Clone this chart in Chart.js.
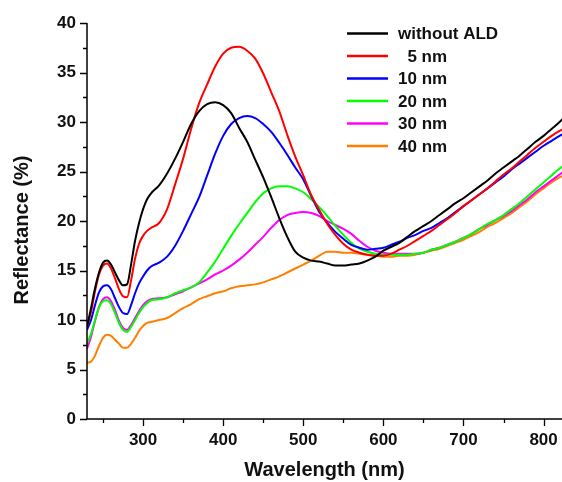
<!DOCTYPE html>
<html>
<head>
<meta charset="utf-8">
<script src="https://cdn.jsdelivr.net/npm/chart.js"></script>
<style>
  html, body { margin: 0; padding: 0; background: #fff; }
  #wrap { width: 562px; height: 482px; }
</style>
</head>
<body>
<div id="wrap"><canvas id="chart" width="562" height="482"></canvas></div>
<script>
// reflectance spectra vs ALD thickness

const WAVELENGTH = [
  230, 235, 240, 245, 250, 255, 260, 265, 270, 275, 280, 285, 290, 295, 300, 305, 310,
  320, 330, 340, 350, 360, 370, 380, 390, 400, 410, 420, 430, 440, 450, 460, 470, 480, 490,
  500, 510, 520, 530, 540, 550, 560, 570, 580, 590, 600, 610, 620, 630, 640, 650, 660, 670,
  680, 690, 700, 710, 720, 730, 740, 750, 760, 770, 780, 790, 800, 810, 820, 825
];

const NO_ALD = [
  9.3, 11.2, 13.2, 14.8, 15.8, 16.0, 15.6, 14.8, 14.0, 13.5, 13.6, 15.6, 18.0, 19.8, 21.2, 22.2, 22.8,
  23.6, 24.8, 26.3, 28.0, 29.8, 31.1, 31.8, 32.0, 31.7, 30.9, 29.4, 28.0, 26.2, 24.4, 22.4, 20.3, 18.4, 16.9,
  16.3, 16.0, 15.9, 15.7, 15.5, 15.5, 15.6, 15.7, 16.0, 16.4, 17.0, 17.4, 17.8, 18.4, 19.0, 19.5, 20.0, 20.6,
  21.2, 21.8, 22.3, 22.9, 23.5, 24.1, 24.8, 25.4, 26.0, 26.6, 27.3, 28.0, 28.6, 29.3, 30.0, 30.4
];
const ALD_5 = [
  9.3, 10.8, 12.9, 14.6, 15.5, 15.7, 15.2, 14.2, 13.1, 12.4, 12.3, 14.0, 16.2, 17.7, 18.5, 19.0, 19.3,
  19.8, 21.2, 23.7, 26.3, 29.3, 31.9, 33.8, 35.6, 36.9, 37.5, 37.6, 37.2, 36.4, 34.9, 33.0, 31.1, 28.7, 26.5,
  24.6, 22.6, 21.1, 19.7, 18.6, 17.7, 17.1, 16.8, 16.6, 16.5, 16.5, 16.7, 17.1, 17.5, 18.0, 18.5, 19.0, 19.6,
  20.2, 20.8, 21.5, 22.1, 22.7, 23.3, 24.0, 24.7, 25.3, 26.0, 26.7, 27.4, 28.0, 28.6, 29.1, 29.3
];
const ALD_10 = [
  9.0, 10.0, 11.5, 12.8, 13.4, 13.5, 13.1, 12.2, 11.3, 10.7, 10.6, 11.5, 12.7, 13.7, 14.4, 15.0, 15.4,
  15.8, 16.4, 17.5, 19.0, 20.7, 22.4, 24.6, 26.8, 28.6, 29.8, 30.4, 30.6, 30.4, 29.8, 29.0, 27.9, 26.7, 25.4,
  24.2, 22.5, 20.9, 19.8, 18.9, 18.2, 17.6, 17.3, 17.1, 17.2, 17.3, 17.6, 17.9, 18.3, 18.6, 19.0, 19.3, 19.8,
  20.3, 20.9, 21.5, 22.1, 22.7, 23.3, 23.9, 24.5, 25.2, 25.8, 26.4, 27.0, 27.6, 28.1, 28.6, 28.8
];
const ALD_20 = [
  7.6, 8.6, 10.0, 11.3, 11.9, 12.0, 11.6, 10.7, 9.7, 9.0, 8.8, 9.3, 10.0, 10.7, 11.3, 11.7, 12.0,
  12.1, 12.3, 12.7, 13.0, 13.3, 13.8, 14.8, 15.9, 17.2, 18.5, 19.7, 20.8, 21.9, 22.8, 23.3, 23.5, 23.5, 23.3,
  22.9, 22.2, 21.4, 20.5, 19.5, 18.6, 17.8, 17.2, 16.9, 16.7, 16.6, 16.6, 16.6, 16.6, 16.7, 16.8, 17.1, 17.3,
  17.6, 17.9, 18.3, 18.7, 19.2, 19.7, 20.1, 20.6, 21.2, 21.8, 22.5, 23.2, 23.9, 24.6, 25.3, 25.6
];
const ALD_30 = [
  7.1, 8.3, 9.9, 11.3, 12.1, 12.3, 11.9, 11.0, 9.9, 9.2, 9.0, 9.5, 10.2, 10.9, 11.5, 11.9, 12.1,
  12.2, 12.3, 12.6, 12.9, 13.3, 13.7, 14.1, 14.6, 15.0, 15.5, 16.1, 16.8, 17.6, 18.4, 19.3, 20.1, 20.6, 20.8,
  20.9, 20.8, 20.5, 20.0, 19.6, 19.2, 18.7, 18.0, 17.4, 17.0, 16.8, 16.7, 16.7, 16.7, 16.7, 16.8, 17.1, 17.3,
  17.6, 17.9, 18.3, 18.7, 19.2, 19.6, 20.1, 20.5, 21.0, 21.6, 22.2, 22.9, 23.5, 24.1, 24.7, 25.0
];
const ALD_40 = [
  5.7, 5.8, 6.4, 7.4, 8.2, 8.5, 8.4, 8.0, 7.6, 7.2, 7.2, 7.6, 8.2, 8.9, 9.4, 9.7, 9.8,
  10.0, 10.2, 10.7, 11.2, 11.6, 12.1, 12.4, 12.7, 12.9, 13.2, 13.4, 13.5, 13.6, 13.8, 14.1, 14.4, 14.8, 15.2,
  15.6, 16.0, 16.5, 16.9, 16.9, 16.8, 16.8, 16.7, 16.6, 16.5, 16.4, 16.4, 16.5, 16.5, 16.6, 16.8, 17.0, 17.2,
  17.5, 17.8, 18.1, 18.5, 18.9, 19.4, 19.8, 20.3, 20.8, 21.4, 22.0, 22.7, 23.3, 23.9, 24.4, 24.6
];

const SERIES_LABELS = ['without ALD', '  5 nm', '10 nm', '20 nm', '30 nm', '40 nm'];
const SERIES_VALUES = [NO_ALD, ALD_5, ALD_10, ALD_20, ALD_30, ALD_40];
const SERIES_COLORS = ['#000000', '#FF0000', '#0000FF', '#00FF00', '#FF00FF', '#FF8000'];

const X_TICKS = [300, 400, 500, 600, 700, 800];
const Y_TICKS = [0, 5, 10, 15, 20, 25, 30, 35, 40];
const X_MIN = 230, X_MAX = 823;
const Y_MIN = 0, Y_MAX = 40;
const Y_TITLE = 'Reflectance (%)';

const FONT = "'Liberation Sans', Arial, sans-serif";

// axis lines with major + minor outward ticks, plus the y title
const axisFrame = {
  id: 'axisFrame',
  afterDraw(chart) {
    const { ctx, chartArea: a, scales: { x, y } } = chart;
    ctx.save();
    ctx.strokeStyle = '#000';
    ctx.lineWidth = 1.5;
    ctx.beginPath();
    ctx.moveTo(a.left, a.top);
    ctx.lineTo(a.left, a.bottom);
    ctx.lineTo(a.right, a.bottom);
    ctx.stroke();

    ctx.lineWidth = 1.3;
    ctx.beginPath();
    for (let v = 250; v <= X_MAX; v += 50) {
      const px = Math.round(x.getPixelForValue(v)) + 0.5;
      const len = v % 100 === 0 ? 7 : 4;
      ctx.moveTo(px, a.bottom);
      ctx.lineTo(px, a.bottom + len);
    }
    for (let v = Y_MIN; v <= Y_MAX; v += 2.5) {
      const py = Math.round(y.getPixelForValue(v)) + 0.5;
      const len = v % 5 === 0 ? 7 : 4;
      ctx.moveTo(a.left, py);
      ctx.lineTo(a.left - len, py);
    }
    ctx.stroke();

    // y title sits a bit below the plot centre in the original
    ctx.translate(22, (a.top + a.bottom) / 2 + 9);
    ctx.rotate(-Math.PI / 2);
    ctx.font = 'bold 20px ' + FONT;
    ctx.fillStyle = '#111';
    ctx.textAlign = 'center';
    ctx.textBaseline = 'middle';
    ctx.fillText(Y_TITLE, 0, 0);
    ctx.restore();
  }
};

// legend box in top right corner of the plot
const cornerLegend = {
  id: 'cornerLegend',
  afterDraw(chart) {
    const ctx = chart.ctx;
    ctx.save();
    ctx.font = 'bold 17px ' + FONT;
    ctx.textBaseline = 'middle';
    ctx.textAlign = 'left';
    chart.data.datasets.forEach((ds, i) => {
      const yy = 33.5 + i * 22.5;
      ctx.strokeStyle = ds.borderColor;
      ctx.lineWidth = 2.5;
      ctx.beginPath();
      ctx.moveTo(347, yy);
      ctx.lineTo(388, yy);
      ctx.stroke();
      ctx.fillStyle = '#111';
      ctx.fillText(ds.label, 398, yy + 1);
    });
    ctx.restore();
  }
};

const datasets = SERIES_VALUES.map((vals, i) => ({
  label: SERIES_LABELS[i],
  data: vals.map((v, k) => ({ x: WAVELENGTH[k], y: v })),
  borderColor: SERIES_COLORS[i],
  backgroundColor: SERIES_COLORS[i],
  borderWidth: 2,
  pointRadius: 0,
  cubicInterpolationMode: 'monotone',
  fill: false
}));

new Chart(document.getElementById('chart'), {
  type: 'line',
  data: { datasets },
  options: {
    responsive: false,
    animation: false,
    devicePixelRatio: 1,
    layout: { padding: { left: 0, right: 0, top: 23, bottom: 0 } },
    plugins: {
      legend: { display: false },
      tooltip: { enabled: false }
    },
    scales: {
      x: {
        type: 'linear',
        min: X_MIN,
        max: X_MAX,
        border: { display: false },
        grid: { display: false, drawTicks: false },
        ticks: {
          padding: 11,
          color: '#111',
          font: { family: FONT, size: 17, weight: 'bold' },
          maxRotation: 0,
          autoSkip: false
        },
        afterBuildTicks(s) { s.ticks = X_TICKS.map(v => ({ value: v })); },
        title: {
          display: true,
          text: 'Wavelength (nm)',
          color: '#111',
          font: { family: FONT, size: 20, weight: 'bold' },
          padding: { top: 0, bottom: 0 }
        },
        afterFit(s) {
          s.height = 63;
          s.paddingLeft = 0;
          s.paddingRight = 0;
        }
      },
      y: {
        min: Y_MIN,
        max: Y_MAX,
        border: { display: false },
        grid: { display: false, drawTicks: false },
        ticks: {
          padding: 11,
          color: '#111',
          font: { family: FONT, size: 17, weight: 'bold' },
          autoSkip: false
        },
        afterBuildTicks(s) { s.ticks = Y_TICKS.map(v => ({ value: v })); },
        title: { display: false },
        afterFit(s) {
          s.width = 87;
          s.paddingTop = 0;
          s.paddingBottom = 0;
        }
      }
    }
  },
  plugins: [axisFrame, cornerLegend]
});
</script>
</body>
</html>
